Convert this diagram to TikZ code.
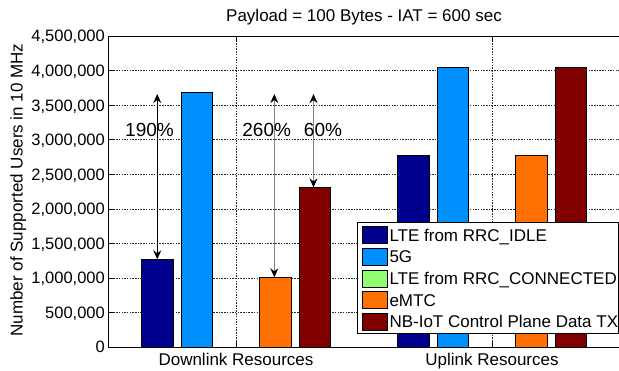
\documentclass[tikz,border=0pt]{standalone}
\usepackage{fontspec}
\setmainfont{Liberation Sans}
\usetikzlibrary{arrows.meta}
\definecolor{cidle}{rgb}{0,0,0.5625}
\definecolor{cfive}{rgb}{0,0.5625,1}
\definecolor{cconn}{rgb}{0.5625,1,0.4375}
\definecolor{cemtc}{rgb}{1,0.4375,0}
\definecolor{cnbiot}{rgb}{0.5,0,0}
\begin{document}
\begin{tikzpicture}[x=1pt,y=1pt,
  lbl/.style={font=\fontsize{17}{20}\selectfont, inner sep=0pt},
  ticklbl/.style={font=\fontsize{16.5}{19}\selectfont, inner sep=0pt, anchor=base east},
  pct/.style={font=\fontsize{19}{22}\selectfont, inner sep=0pt, anchor=base},
  gridline/.style={black!85, line width=0.5pt, dash pattern=on 1.5pt off 1.2pt},
  axisline/.style={black, line width=0.8pt},
  barline/.style={draw=black, line width=0.6pt},
  swatch/.style={draw=black, line width=0.6pt, minimum width=25pt, minimum height=17pt, inner sep=0pt},
  dblarrow/.style={{Stealth[length=9pt,width=8pt,inset=3pt,color=black]}-{Stealth[length=9pt,width=8pt,inset=3pt,color=black]}, line width=0.9pt},
]
\useasboundingbox (0,0) rectangle (619,370);
\fill[white] (0,0) rectangle (619,370);

\begin{scope}[shift={(-20pt,23pt)}, x=256pt, y=69.111pt]
  % grid
  \foreach \v in {0.5,1,1.5,2,2.5,3,3.5,4}
    \draw[gridline] (0.5,\v) -- (2.5,\v);
  \foreach \u in {1,2}
    \draw[gridline] (\u,0) -- (\u,4.5);
  % bars: downlink
  \draw[barline, fill=cidle]  (0.6309,0) rectangle (0.7539,1.269);
  \draw[barline, fill=cfive]  (0.7847,0) rectangle (0.9077,3.69);
  \draw[barline, fill=cemtc]  (1.0923,0) rectangle (1.2153,1.009);
  \draw[barline, fill=cnbiot] (1.2461,0) rectangle (1.3691,2.31);
  % bars: uplink
  \draw[barline, fill=cidle]  (1.6309,0) rectangle (1.7539,2.774);
  \draw[barline, fill=cfive]  (1.7847,0) rectangle (1.9077,4.048);
  \draw[barline, fill=cemtc]  (2.0923,0) rectangle (2.2153,2.774);
  \draw[barline, fill=cnbiot] (2.2461,0) rectangle (2.3691,4.048);
  % ticks
  \foreach \v in {0.5,1,1.5,2,2.5,3,3.5,4}
    \draw[black, line width=0.5pt] (0.5,\v) -- ++(5pt,0);
  \foreach \u in {1,2}
    {\draw[black, line width=0.5pt] (\u,0) -- ++(0,5pt);
     \draw[black, line width=0.5pt] (\u,4.5) -- ++(0,-5pt);}
  % axes box
  \draw[axisline] (2.5,4.5) -- (0.5,4.5) -- (0.5,0) -- (2.5,0);
  % arrows
  \coordinate (aonetop) at (0.6924,3.66);
  \coordinate (aonebot) at (0.6924,1.269);
  \coordinate (atwotop) at (1.1496,3.66);
  \coordinate (atwobot) at (1.1496,1.009);
  \coordinate (athreetop) at (1.3027,3.66);
  \coordinate (athreebot) at (1.3027,2.31);
  \draw[dblarrow, black] (aonebot) -- (aonetop);
  \draw[dblarrow, black!50] (atwobot) -- (atwotop);
  \draw[dblarrow, black!50] (athreebot) -- (athreetop);
\end{scope}

% tick labels
\foreach \v/\t [count=\i] in {0/0, 0.5/{500,000}, 1/{1,000,000}, 1.5/{1,500,000}, 2/{2,000,000}, 2.5/{2,500,000}, 3/{3,000,000}, 3.5/{3,500,000}, 4/{4,000,000}, 4.5/{4,500,000}}
  \node[ticklbl] (ytick\i) at (105,{23+\v*69.111-5.9}) {\t};

% percent labels
\node[pct] (pone) at (149.5,233.3) {190\%};
\node[pct] (ptwo) at (266.7,233.3) {260\%};
\node[pct] (pthree) at (323,233.3) {60\%};

% title and axis labels
\node[lbl, anchor=base] (title) at (364,348) {Payload = 100 Bytes - IAT = 600 sec};
\node[lbl, anchor=base] (xdl) at (236,5) {Downlink Resources};
\node[lbl, anchor=base] (xul) at (492,5) {Uplink Resources};
\node[lbl, anchor=base, rotate=90] (ylab) at (22.5,180) {Number of Supported Users in 10 MHz};

% legend
\draw[black, fill=white, line width=0.7pt] (357.7,147.3) rectangle (618,36.7);
\foreach \c/\t [count=\i] in {cidle/{LTE from RRC\_IDLE}, cfive/{5G}, cconn/{LTE from RRC\_CONNECTED}, cemtc/{eMTC}, cnbiot/{NB-IoT Control Plane Data TX}}
  {
  \node[swatch, fill=\c] (sw\i) at (374.8,{135-(\i-1)*21.67}) {};
  \node[lbl, anchor=base west] (lg\i) at (389.3,{135-(\i-1)*21.67-6.1}) {\t};
  }
\end{tikzpicture}
\end{document}
